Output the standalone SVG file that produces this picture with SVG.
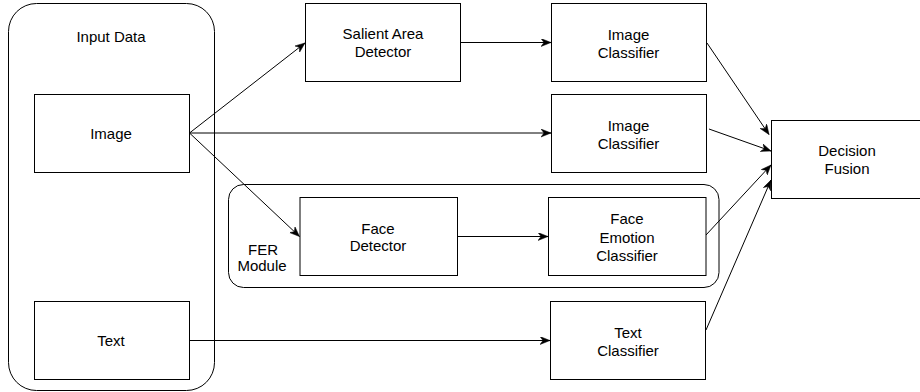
<svg xmlns="http://www.w3.org/2000/svg" width="920" height="392" viewBox="0 0 920 392">
<style>
.box{fill:#fff;stroke:#000;stroke-width:1}
.grp{fill:none;stroke:#000;stroke-width:1}
.lbl{font-family:"Liberation Sans",Arial,sans-serif;font-size:15px;fill:#000;text-anchor:middle}
.edge{fill:none;stroke:#000;stroke-width:1;marker-end:url(#arr)}
</style>
<defs>
<marker id="arr" markerUnits="userSpaceOnUse" markerWidth="11" markerHeight="9" refX="10" refY="4" orient="auto" viewBox="0 0 11 9">
<path d="M0,0 L10,4 L0,8 L3,4 Z" fill="#000" stroke="#000" stroke-width="0.5"/>
</marker>
</defs>
<g id="input-data">
<rect class="grp" x="8.5" y="3.5" width="206" height="387" rx="28" ry="28"/>
<text class="lbl" x="111" y="42">Input Data</text>
</g>
<g id="fer-module">
<rect class="grp" x="228.5" y="184.5" width="490.5" height="103" rx="15" ry="15"/>
<text class="lbl" x="263" y="254.5">FER</text>
<text class="lbl" x="262" y="271">Module</text>
</g>
<g id="image">
<rect class="box" x="34.5" y="94.5" width="155" height="78"/>
<text class="lbl" x="111" y="139">Image</text>
</g>
<g id="text">
<rect class="box" x="34.5" y="301.5" width="155" height="78"/>
<text class="lbl" x="111" y="346">Text</text>
</g>
<g id="salient">
<rect class="box" x="305.5" y="3.5" width="155" height="78"/>
<text class="lbl" x="383" y="39">Salient Area</text>
<text class="lbl" x="383" y="56.5">Detector</text>
</g>
<g id="image-classifier-1">
<rect class="box" x="551.5" y="3.5" width="155" height="78"/>
<text class="lbl" x="628.5" y="40">Image</text>
<text class="lbl" x="628.5" y="57.5">Classifier</text>
</g>
<g id="image-classifier-2">
<rect class="box" x="551.5" y="94.5" width="155" height="78"/>
<text class="lbl" x="628.5" y="131">Image</text>
<text class="lbl" x="628.5" y="148.5">Classifier</text>
</g>
<g id="face-detector">
<rect class="box" x="300" y="197.5" width="157.5" height="78"/>
<text class="lbl" x="378" y="233.5">Face</text>
<text class="lbl" x="378" y="251">Detector</text>
</g>
<g id="face-emotion-classifier">
<rect class="box" x="548.5" y="197.5" width="157.5" height="78"/>
<text class="lbl" x="627" y="224">Face</text>
<text class="lbl" x="627" y="242.5">Emotion</text>
<text class="lbl" x="627" y="261">Classifier</text>
</g>
<g id="text-classifier">
<rect class="box" x="550.5" y="301.5" width="155" height="78"/>
<text class="lbl" x="628" y="337.5">Text</text>
<text class="lbl" x="628" y="355.5">Classifier</text>
</g>
<g id="decision-fusion">
<rect class="box" x="771.5" y="120.5" width="155" height="78"/>
<text class="lbl" x="847" y="156">Decision</text>
<text class="lbl" x="847" y="174">Fusion</text>
</g>
<g id="connectors">
<path class="edge" d="M189.5,133 L305,43"/>
<path class="edge" d="M189.5,133 L551,133"/>
<path class="edge" d="M189.5,133 L299.5,236.5"/>
<path class="edge" d="M460.5,42.5 L551,42.5"/>
<path class="edge" d="M457.5,236.5 L548,236.5"/>
<path class="edge" d="M189.5,340.5 L550,340.5"/>
<path class="edge" d="M707,43 L769,134.5"/>
<path class="edge" d="M709,129 L771,151"/>
<path class="edge" d="M706,235 L771,165"/>
<path class="edge" d="M706,330 L771,180"/>
</g>
</svg>
